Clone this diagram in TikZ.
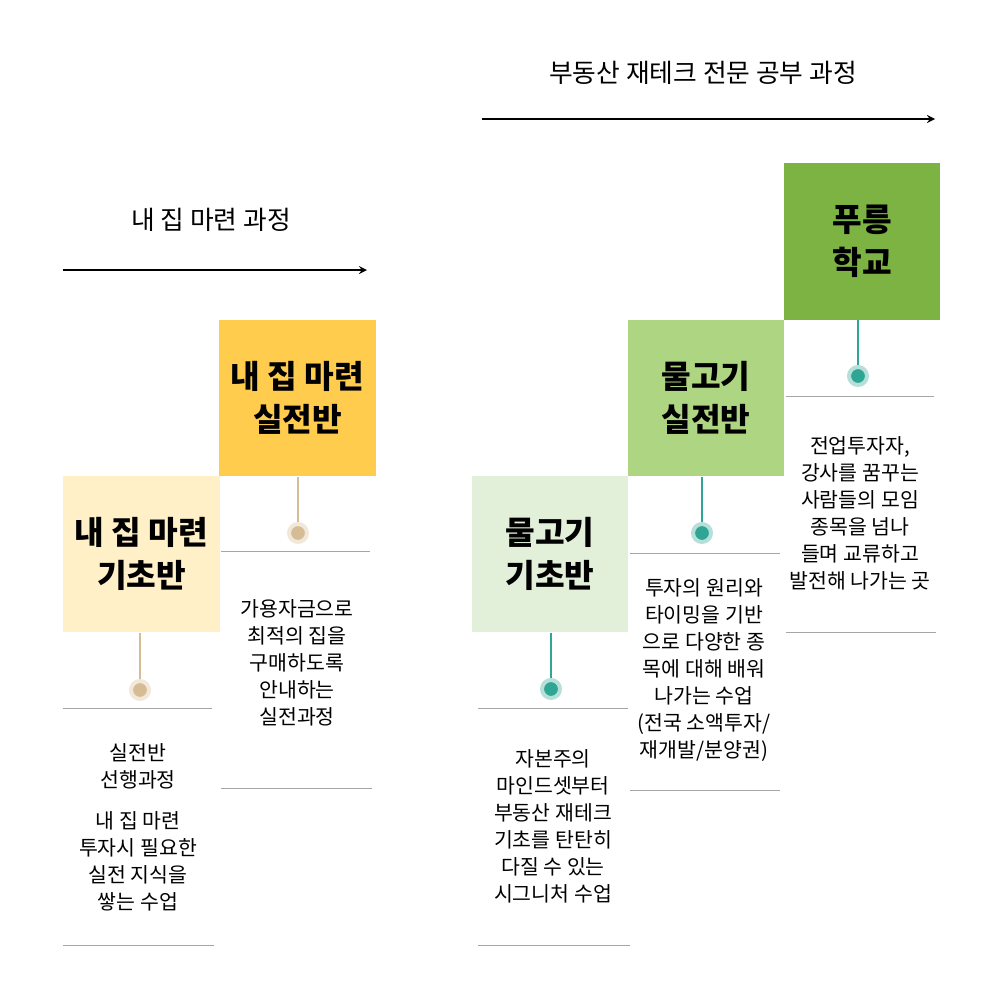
\documentclass[tikz,border=0pt]{standalone}
\usepackage{fontspec}
\setmainfont{Noto Sans CJK KR}
\definecolor{tan}{HTML}{D6BC94}
\definecolor{teal}{HTML}{2FA593}
\definecolor{ylight}{HTML}{FFF0C8}
\definecolor{ydark}{HTML}{FFCC4D}
\definecolor{glight}{HTML}{E2EFD9}
\definecolor{gmid}{HTML}{AED581}
\definecolor{gdark}{HTML}{7CB342}
\tikzset{
  stepbox/.style={minimum width=47mm, minimum height=47mm, inner sep=0pt, align=center,
    font=\fontsize{27.5}{37}\selectfont\bfseries},
  desc/.style={align=center, font=\fontsize{17.5}{23}\selectfont},
  rule/.style={draw=gray!70, line width=0.6pt},
  stem/.style={line width=1pt},
  dot/.style={circle, inner sep=0pt, minimum size=5.4mm, fill=#1, draw=#1!35, line width=1.2mm},
}
\begin{document}
\begin{tikzpicture}[x=0.3mm,y=-0.3mm]
  \useasboundingbox (0,0) rectangle (1000,1000);

  % headers
  \node[font=\fontsize{22}{26}\selectfont] (head1) at (211,220) {내 집 마련 과정};
  \coordinate (a1s) at (63,270); \coordinate (a1e) at (367,270);
  \draw[line width=2pt, -stealth] (a1s) -- (a1e);
  \node[font=\fontsize{22}{26}\selectfont] (head2) at (703,73) {부동산 재테크 전문 공부 과정};
  \coordinate (a2s) at (482,119); \coordinate (a2e) at (935,119);
  \draw[line width=2pt, -stealth] (a2s) -- (a2e);

  % boxes
  \node[stepbox, fill=ylight] (b1) at (141.5,554) {내 집 마련\\기초반};
  \node[stepbox, fill=ydark]  (b2) at (297.5,398) {내 집 마련\\실전반};
  \node[stepbox, fill=glight] (b3) at (550,554) {물고기\\기초반};
  \node[stepbox, fill=gmid]   (b4) at (706,398) {물고기\\실전반};
  \node[stepbox, fill=gdark]  (b5) at (862,241.5) {푸릉\\학교};

  % dots
  \node[dot=tan]  (d1) at (140,690) {};
  \node[dot=tan]  (d2) at (298,533) {};
  \node[dot=teal] (d3) at (551,689) {};
  \node[dot=teal] (d4) at (702,533) {};
  \node[dot=teal] (d5) at (858,376) {};
  \draw[stem, tan]  (b1.south -| d1) -- (d1);
  \draw[stem, tan]  (b2.south -| d2) -- (d2);
  \draw[stem, teal] (b3.south -| d3) -- (d3);
  \draw[stem, teal] (b4.south -| d4) -- (d4);
  \draw[stem, teal] (b5.south -| d5) -- (d5);

  % rules
  \draw[rule] (63,708) -- (212,708);  \draw[rule] (63,945) -- (214,945);
  \draw[rule] (221,551) -- (370,551); \draw[rule] (221,788) -- (372,788);
  \draw[rule] (478,708) -- (628,708); \draw[rule] (478,945) -- (630,945);
  \draw[rule] (630,553) -- (780,553); \draw[rule] (630,790) -- (780,790);
  \draw[rule] (786,396) -- (934,396); \draw[rule] (786,632) -- (936,632);

  % descriptions
  \node[desc] (t1) at (138,827) {실전반\\선행과정\\[12pt]내 집 마련\\투자시 필요한\\실전 지식을\\쌓는 수업};
  \node[desc] (t2) at (297,663) {가용자금으로\\최적의 집을\\구매하도록\\안내하는\\실전과정};
  \node[desc] (t3) at (553,826) {자본주의\\마인드셋부터\\부동산 재테크\\기초를 탄탄히\\다질 수 있는\\시그니처 수업};
  \node[desc] (t4) at (704,670) {투자의 원리와\\타이밍을 기반\\으로 다양한 종\\목에 대해 배워\\나가는 수업\\(전국 소액투자/\\재개발/분양권)};
  \node[desc] (t5) at (860,513) {전업투자자,\\강사를 꿈꾸는\\사람들의 모임\\종목을 넘나\\들며 교류하고\\발전해 나가는 곳};
\end{tikzpicture}
\end{document}
